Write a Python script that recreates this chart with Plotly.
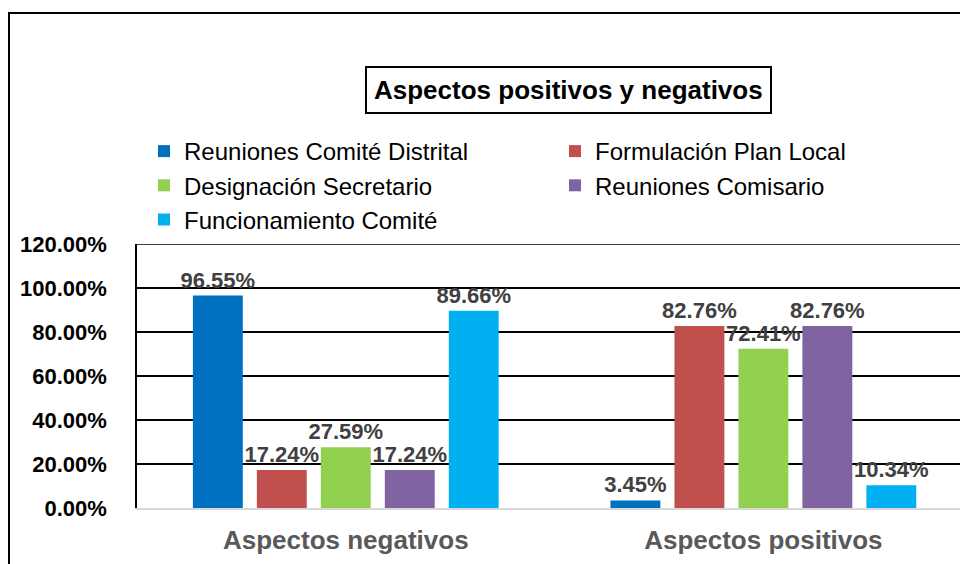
import plotly.graph_objects as go

categories = ["Aspectos negativos", "Aspectos positivos"]
series_names = [
    "Reuniones Comité Distrital",
    "Formulación Plan Local",
    "Designación Secretario",
    "Reuniones Comisario",
    "Funcionamiento Comité",
]
reuniones_comite = [0.9655, 0.0345]
formulacion_plan = [0.1724, 0.8276]
designacion_secretario = [0.2759, 0.7241]
reuniones_comisario = [0.1724, 0.8276]
funcionamiento_comite = [0.8966, 0.1034]
series_values = [reuniones_comite, formulacion_plan, designacion_secretario,
                 reuniones_comisario, funcionamiento_comite]
colors = ["#0070C0", "#C0504D", "#92D050", "#8064A2", "#00B0F0"]
legend_columns = ["legend", "legend2", "legend", "legend2", "legend"]
title_text = "Aspectos positivos y negativos"

FONT = "Liberation Sans, Arial, sans-serif"

# page body has an 8px margin, so the figure is placed at (8, 8)
OFF = 8
W, H = 968 - OFF, 564 - OFF
L, R, T, B = 137 - OFF, 0, 244 - OFF, 56
PW = W - L - R
PH = H - T - B

def px_x(p):  # p in window pixels
    return (p - OFF - L) / PW

def px_y(p):
    return (H - B - (p - OFF)) / PH

fig = go.Figure()
for name, vals, col, lg in zip(series_names, series_values, colors, legend_columns):
    fig.add_trace(go.Bar(
        x=categories, y=vals, name=name, legend=lg,
        marker=dict(color=col, line=dict(width=0)),
        texttemplate="%{y:.2%}", textposition="outside",
        textfont=dict(family=FONT, size=22, color="#404040", weight="bold"),
        constraintext="none", cliponaxis=False,
    ))

legend_style = dict(
    orientation="v", yanchor="top", xanchor="left",
    font=dict(family=FONT, size=24, color="black"),
    traceorder="normal", bgcolor="rgba(0,0,0,0)",
)

fig.update_layout(
    width=W, height=H,
    margin=dict(l=L, r=R, t=T, b=B, pad=0),
    paper_bgcolor="white", plot_bgcolor="white",
    barmode="group", bargap=0.234, bargroupgap=0.22,
    font=dict(family=FONT),
    legend=dict(x=px_x(144), y=px_y(129), **legend_style),
    legend2=dict(x=px_x(555), y=px_y(129), **legend_style),
    xaxis=dict(
        range=[-0.5, 1.49], showline=True, linecolor="#D9D9D9", linewidth=2,
        showgrid=False, ticks="", ticklabelstandoff=8,
        tickfont=dict(family=FONT, size=26, color="#595959", weight="bold"),
    ),
    yaxis=dict(
        range=[0, 1.2], dtick=0.2, tickformat=".2%",
        showgrid=True, gridcolor="black", gridwidth=1.5,
        showline=True, linecolor="black", linewidth=1.5,
        zeroline=False, ticks="", ticklabelstandoff=24,
        tickfont=dict(family=FONT, size=22, color="black", weight="bold"),
    ),
    shapes=[
        dict(type="rect", xref="paper", yref="paper",
             x0=px_x(9), x1=px_x(1100), y0=px_y(620), y1=px_y(13),
             line=dict(color="black", width=2), fillcolor="rgba(0,0,0,0)", layer="below"),
        dict(type="line", xref="paper", yref="y", x0=0, x1=1, y0=1.2, y1=1.2,
             line=dict(color="black", width=1.5)),
    ],
    annotations=[
        dict(text=title_text, xref="paper", yref="paper",
             x=px_x(568), y=px_y(89.5), xanchor="center", yanchor="middle",
             showarrow=False, bordercolor="black", borderwidth=2, borderpad=7,
             bgcolor="white",
             font=dict(family=FONT, size=26, color="black", weight="bold")),
    ],
)

fig.write_html("out.html")
